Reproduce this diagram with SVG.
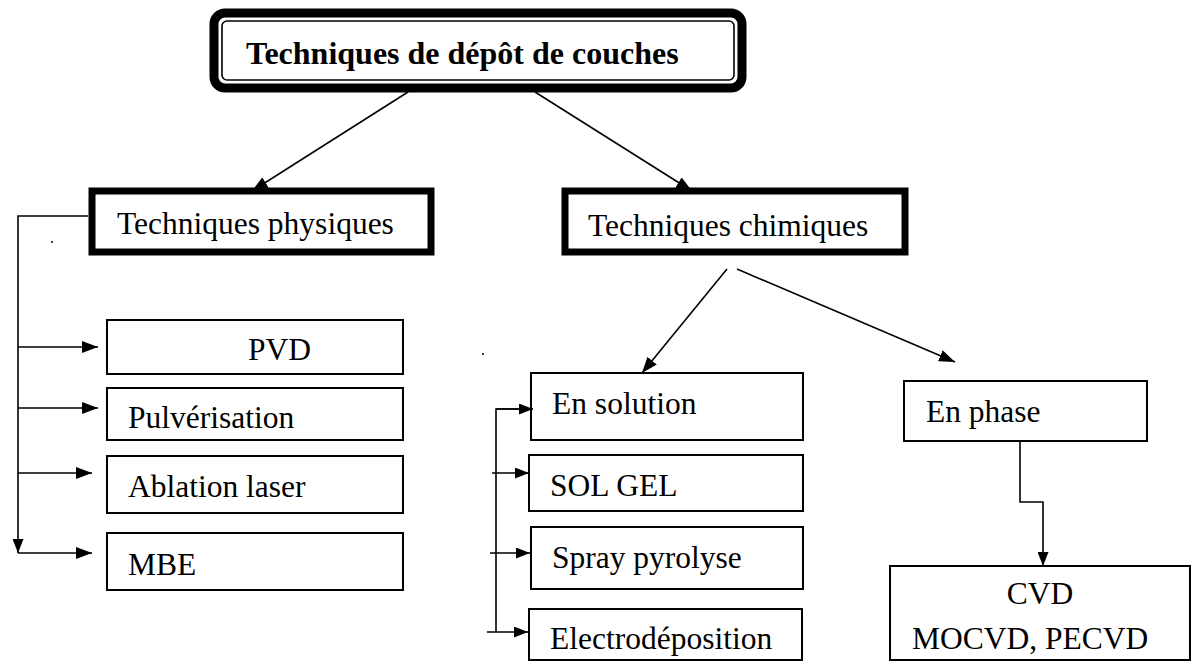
<svg xmlns="http://www.w3.org/2000/svg" width="1203" height="664" viewBox="0 0 1203 664">
  <defs>
    <style>
      .box { fill: #fff; stroke: #000; stroke-width: 2; }
      .thick { fill: #fff; stroke: #000; stroke-width: 7; }
      .lbl { font-family: "Liberation Serif", "Times New Roman", serif; font-size: 31.5px; fill: #000; }
      .title { font-weight: bold; font-size: 32px; }
      .wire { fill: none; stroke: #000; stroke-width: 1.6; }
    </style>
    <marker id="ah" viewBox="0 0 16 12" refX="16" refY="6" markerWidth="16" markerHeight="12" markerUnits="userSpaceOnUse" orient="auto">
      <path d="M0,0 L16,6 L0,12 z" fill="#000"/>
    </marker>
    <marker id="ahs" viewBox="0 0 14 11" refX="14" refY="5.5" markerWidth="14" markerHeight="11" markerUnits="userSpaceOnUse" orient="auto">
      <path d="M0,0 L14,5.5 L0,11 z" fill="#000"/>
    </marker>
  </defs>
  <rect width="1203" height="664" fill="#fff"/>

  <!-- root: double-framed title -->
  <g id="n-root">
    <rect x="214" y="13" width="528" height="75" rx="11" fill="#fff" stroke="#000" stroke-width="9"/>
    <rect x="222" y="21" width="512" height="59" rx="5" fill="none" stroke="#000" stroke-width="1.6"/>
    <text class="lbl title" x="246" y="64">Techniques de dépôt de couches</text>
  </g>

  <g id="n-physiques">
    <rect class="thick" x="92" y="191" width="339" height="61"/>
    <text class="lbl" x="117" y="234">Techniques physiques</text>
  </g>
  <g id="n-chimiques">
    <rect class="thick" x="565" y="191" width="340" height="61"/>
    <text class="lbl" x="588" y="236">Techniques chimiques</text>
  </g>

  <!-- physical methods -->
  <g id="n-pvd">
    <rect class="box" x="107" y="320" width="296" height="54"/>
    <text class="lbl" x="248" y="360">PVD</text>
  </g>
  <g id="n-pulverisation">
    <rect class="box" x="107" y="388" width="296" height="52"/>
    <text class="lbl" x="128" y="428">Pulvérisation</text>
  </g>
  <g id="n-ablation">
    <rect class="box" x="107" y="456" width="296" height="57"/>
    <text class="lbl" x="128" y="497">Ablation laser</text>
  </g>
  <g id="n-mbe">
    <rect class="box" x="107" y="533" width="296" height="57"/>
    <text class="lbl" x="128" y="575">MBE</text>
  </g>

  <!-- chemical methods -->
  <g id="n-solution">
    <rect class="box" x="531" y="373" width="272" height="67"/>
    <text class="lbl" x="552" y="414">En solution</text>
  </g>
  <g id="n-solgel">
    <rect class="box" x="529" y="455" width="274" height="56"/>
    <text class="lbl" x="550" y="496">SOL GEL</text>
  </g>
  <g id="n-spray">
    <rect class="box" x="531" y="527" width="272" height="62"/>
    <text class="lbl" x="552" y="568">Spray pyrolyse</text>
  </g>
  <g id="n-electro">
    <rect class="box" x="529" y="609" width="273" height="51"/>
    <text class="lbl" x="550" y="649">Electrodéposition</text>
  </g>
  <g id="n-phase">
    <rect class="box" x="904" y="381" width="243" height="60"/>
    <text class="lbl" x="926" y="422">En phase</text>
  </g>
  <g id="n-cvd">
    <rect class="box" x="890" y="566" width="300" height="94"/>
    <text class="lbl" x="1040" y="604" text-anchor="middle">CVD</text>
    <text class="lbl" x="912" y="649">MOCVD, PECVD</text>
  </g>

  <g id="connectors">
    <!-- root to the two families -->
    <line class="wire" x1="408" y1="92" x2="252" y2="191" marker-end="url(#ah)"/>
    <line class="wire" x1="535" y1="92" x2="692" y2="191" marker-end="url(#ah)"/>

    <!-- physical bracket -->
    <polyline class="wire" points="88,216 18,216 18,553" marker-end="url(#ahs)"/>
    <line class="wire" x1="18" y1="347" x2="98" y2="347" marker-end="url(#ah)"/>
    <line class="wire" x1="18" y1="408" x2="98" y2="408" marker-end="url(#ah)"/>
    <line class="wire" x1="18" y1="473" x2="92" y2="473" marker-end="url(#ah)"/>
    <line class="wire" x1="18" y1="553" x2="92" y2="553" marker-end="url(#ah)"/>

    <!-- chemical split -->
    <line class="wire" x1="727" y1="269" x2="642" y2="373" marker-end="url(#ah)"/>
    <line class="wire" x1="737" y1="269" x2="955" y2="362" marker-end="url(#ah)"/>

    <!-- solution bracket -->
    <polyline class="wire" points="533,409 496,409 496,632"/>
    <line class="wire" x1="496" y1="409" x2="533" y2="409" marker-end="url(#ahs)"/>
    <line class="wire" x1="492" y1="473" x2="529" y2="473" marker-end="url(#ahs)"/>
    <line class="wire" x1="490" y1="553" x2="530" y2="553" marker-end="url(#ahs)"/>
    <line class="wire" x1="487" y1="632" x2="528" y2="632" marker-end="url(#ahs)"/>

    <!-- vapour phase to CVD -->
    <polyline class="wire" points="1020,441 1020,502 1043,502 1043,566" marker-end="url(#ahs)"/>
  </g>

  <!-- stray specks -->
  <circle cx="52" cy="242" r="1" fill="#000"/>
  <circle cx="483" cy="354" r="1" fill="#000"/>
</svg>
